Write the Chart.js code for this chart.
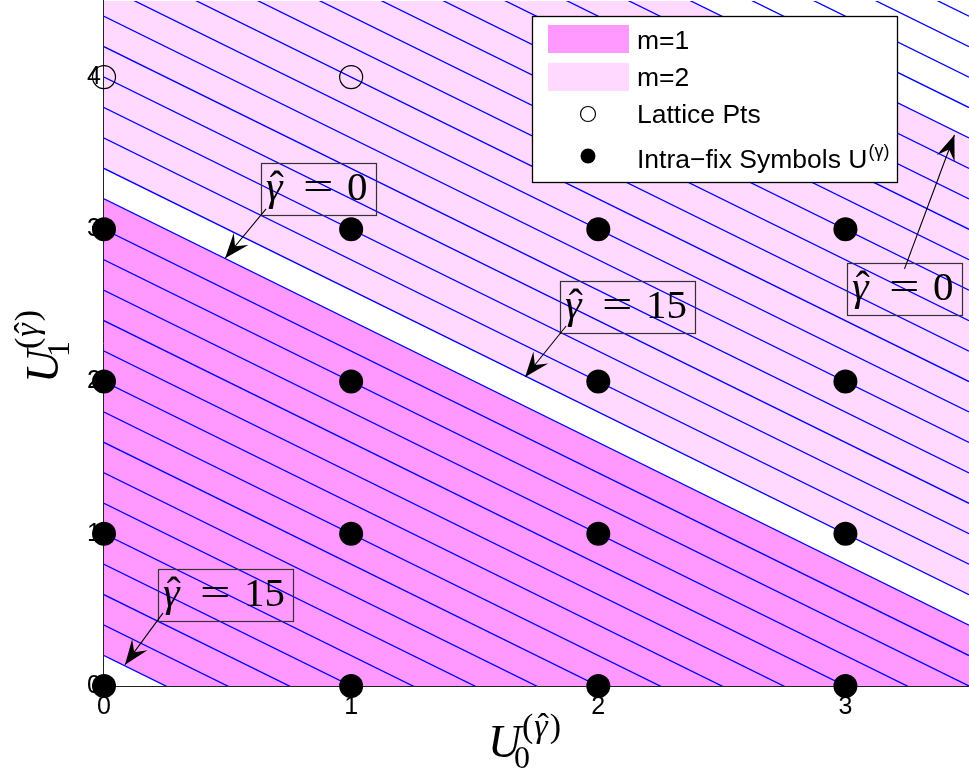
<!DOCTYPE html>
<html>
<head>
<meta charset="utf-8">
<script src="https://cdn.jsdelivr.net/npm/chart.js@4/dist/chart.umd.min.js"></script>
<style>
  html, body { margin: 0; padding: 0; background: #ffffff; }
  #wrap { width: 969px; height: 773px; }
</style>
</head>
<body>
<div id="wrap"><canvas id="chart" width="969" height="773"></canvas></div>
<script>
// ---- data -------------------------------------------------------------
const xTicks = [0, 1, 2, 3];
const yTicks = [0, 1, 2, 3, 4];

// intra-fix symbols U^(gamma) (filled markers)
const symbolU0 = [0, 1, 2, 3, 0, 1, 2, 3, 0, 1, 2, 3, 0, 1, 2, 3];
const symbolU1 = [0, 0, 0, 0, 1, 1, 1, 1, 2, 2, 2, 2, 3, 3, 3, 3];

// remaining lattice points (open markers)
const latticeU0 = [0, 1, 2, 3];
const latticeU1 = [4, 4, 4, 4];

// level lines U1 = c - slope * U0
const levelSlope = 0.8;
const levelIntercepts = [0.2, 0.4, 0.6, 0.8, 1.0, 1.2, 1.4, 1.6, 1.8, 2.0, 2.2, 2.4,
  2.6, 2.8, 3.0, 3.2, 3.4, 3.6, 3.8, 4.0, 4.2, 4.4, 4.6, 4.8, 5.0, 5.2, 5.4, 5.6,
  5.8, 6.0, 6.2, 6.4, 6.6, 6.8, 7.0, 7.2];

// shaded bands, bounded by two level lines each
const bandNames = ['m=1', 'm=2'];
const bandLow = [0.2, 3.4];
const bandHigh = [3.2, 6.4];
const bandColors = ['#ff99ff', '#ffd9ff'];

// gamma-hat annotations: box corner, arrow tail and arrow head (data units)
const notes = [
  { label: '0',  boxX: 0.636, boxY: 3.436, tailX: 0.656, tailY: 3.134, headX: 0.490, headY: 2.81 },
  { label: '15', boxX: 1.846, boxY: 2.661, tailX: 1.870, tailY: 2.365, headX: 1.704, headY: 2.03 },
  { label: '0',  boxX: 3.008, boxY: 2.779, tailX: 3.239, tailY: 2.740, headX: 3.441, headY: 3.62 },
  { label: '15', boxX: 0.219, boxY: 0.769, tailX: 0.239, tailY: 0.480, headX: 0.085, headY: 0.14 }
];

const X_MIN = 0, X_MAX = 3.5, Y_MIN = 0, Y_MAX = 4.5;
const SANS = '"Liberation Sans", Arial, Helvetica, sans-serif';
const SERIF = '"Liberation Serif", "Times New Roman", serif';

// ---- datasets ---------------------------------------------------------
function linePoints(c) {
  return [{ x: X_MIN, y: c - levelSlope * X_MIN }, { x: X_MAX, y: c - levelSlope * X_MAX }];
}

const datasets = [];
bandNames.forEach((name, i) => {
  datasets.push({
    label: name,
    data: linePoints(bandHigh[i]),
    showLine: true,
    borderWidth: 0,
    borderColor: 'rgba(0,0,0,0)',
    pointRadius: 0,
    backgroundColor: bandColors[i],
    fill: '+1',
    order: 3
  });
  datasets.push({
    label: name + ' lower',
    data: linePoints(bandLow[i]),
    showLine: true,
    borderWidth: 0,
    borderColor: 'rgba(0,0,0,0)',
    pointRadius: 0,
    fill: false,
    order: 3
  });
});

levelIntercepts.forEach(c => {
  datasets.push({
    label: 'level ' + c,
    data: linePoints(c),
    showLine: true,
    borderColor: '#0000ff',
    borderWidth: 1.3,
    pointRadius: 0,
    fill: false,
    order: 2
  });
});

datasets.push({
  label: 'Lattice Pts',
  data: latticeU0.map((x, i) => ({ x: x, y: latticeU1[i] })),
  showLine: false,
  pointRadius: 11.5,
  pointHoverRadius: 11.5,
  pointBackgroundColor: 'rgba(0,0,0,0)',
  pointBorderColor: '#000000',
  pointBorderWidth: 1.2,
  clip: false,
  order: 1
});

datasets.push({
  label: 'Intra-fix Symbols',
  data: symbolU0.map((x, i) => ({ x: x, y: symbolU1[i] })),
  showLine: false,
  pointRadius: 12,
  pointHoverRadius: 12,
  pointBackgroundColor: '#000000',
  pointBorderColor: '#000000',
  pointBorderWidth: 0,
  clip: false,
  order: 0
});

// ---- drawing helpers --------------------------------------------------
function drawArrowHead(ctx, tx, ty, fx, fy) {
  const dx = tx - fx, dy = ty - fy;
  const len = Math.hypot(dx, dy);
  const ux = dx / len, uy = dy / len;
  const nx = -uy, ny = ux;
  const L = 25, W = 9.5, notch = 0.62 * L;
  ctx.beginPath();
  ctx.moveTo(tx, ty);
  ctx.lineTo(tx - ux * L + nx * W, ty - uy * L + ny * W);
  ctx.lineTo(tx - ux * notch, ty - uy * notch);
  ctx.lineTo(tx - ux * L - nx * W, ty - uy * L - ny * W);
  ctx.closePath();
  ctx.fill();
}

function drawGammaHat(ctx, x, baseline, size, italic) {
  ctx.font = (italic ? 'italic ' : '') + size + 'px ' + SERIF;
  const gw = ctx.measureText('γ').width;
  ctx.fillText('γ', x, baseline);
  ctx.font = size + 'px ' + SERIF;
  const hw = ctx.measureText('ˆ').width;
  ctx.fillText('ˆ', x + gw / 2 - hw / 2 + size * 0.06, baseline);
  return gw;
}

function drawNote(ctx, xs, ys, n) {
  const left = Math.round(xs.getPixelForValue(n.boxX));
  const top = Math.round(ys.getPixelForValue(n.boxY));
  ctx.save();
  ctx.font = '40px ' + SERIF;
  const numW = ctx.measureText(n.label).width;
  const w = 95 + numW, h = 52;
  ctx.strokeStyle = '#333333';
  ctx.lineWidth = 1.2;
  ctx.strokeRect(left + 0.5, top + 0.5, w, h);

  ctx.fillStyle = '#000000';
  ctx.textBaseline = 'alphabetic';
  ctx.textAlign = 'left';
  const base = top + 37;
  drawGammaHat(ctx, left + 5, base, 42, true);
  // equals sign, widened
  ctx.save();
  ctx.font = '40px ' + SERIF;
  ctx.translate(left + 42, base);
  ctx.scale(1.35, 1);
  ctx.fillText('=', 0, 0);
  ctx.restore();
  ctx.font = '41px ' + SERIF;
  ctx.fillText(n.label, left + 86, base);

  // arrow
  const tx = xs.getPixelForValue(n.tailX), ty = ys.getPixelForValue(n.tailY);
  const hx = xs.getPixelForValue(n.headX), hy = ys.getPixelForValue(n.headY);
  ctx.strokeStyle = '#000000';
  ctx.lineWidth = 1.1;
  ctx.beginPath();
  ctx.moveTo(tx, ty);
  ctx.lineTo(hx, hy);
  ctx.stroke();
  drawArrowHead(ctx, hx, hy, tx, ty);
  ctx.restore();
}

function drawAxisSymbol(ctx, sub) {
  ctx.fillStyle = '#000000';
  ctx.textBaseline = 'alphabetic';
  ctx.textAlign = 'left';
  ctx.font = 'italic 46px ' + SERIF;
  ctx.fillText('U', 0, 0);
  ctx.font = '32px ' + SERIF;
  ctx.fillText(sub, 26, 11);
  ctx.font = '34px ' + SERIF;
  let x = 34;
  ctx.fillText('(', x, -20);
  x += ctx.measureText('(').width + 1;
  const gw = drawGammaHat(ctx, x, -20, 34, true);
  x += gw + 2;
  ctx.font = '34px ' + SERIF;
  ctx.fillText(')', x, -20);
}

function drawLegend(ctx) {
  const bx = 532, by = 16, bw = 365, bh = 166;
  ctx.save();
  ctx.fillStyle = '#ffffff';
  ctx.fillRect(bx, by, bw, bh);
  ctx.strokeStyle = '#000000';
  ctx.lineWidth = 1.3;
  ctx.strokeRect(bx + 0.5, by + 0.5, bw, bh);

  ctx.fillStyle = bandColors[0];
  ctx.fillRect(548, 25, 81, 28);
  ctx.fillStyle = bandColors[1];
  ctx.fillRect(548, 63, 81, 28);

  ctx.strokeStyle = '#000000';
  ctx.lineWidth = 1.2;
  ctx.beginPath();
  ctx.arc(588, 114, 7.5, 0, Math.PI * 2);
  ctx.stroke();
  ctx.fillStyle = '#000000';
  ctx.beginPath();
  ctx.arc(588, 156, 7.5, 0, Math.PI * 2);
  ctx.fill();

  ctx.font = '26.5px ' + SANS;
  ctx.textBaseline = 'alphabetic';
  ctx.textAlign = 'left';
  ctx.fillText(bandNames[0], 637, 49);
  ctx.fillText(bandNames[1], 637, 86);
  ctx.fillText('Lattice Pts', 637, 123);
  const main = 'Intra\u2212fix Symbols U';
  ctx.fillText(main, 637, 168);
  const mw = ctx.measureText(main).width;
  ctx.font = '18px ' + SANS;
  ctx.fillText('(γ)', 637 + mw + 1, 157);
  ctx.restore();
}

// ---- plugins ----------------------------------------------------------
const axesPlugin = {
  id: 'axesLines',
  beforeDatasetsDraw(chart) {
    const { ctx, chartArea: a } = chart;
    ctx.save();
    ctx.strokeStyle = '#222222';
    ctx.lineWidth = 1;
    ctx.beginPath();
    ctx.moveTo(a.left - 0.5, 0);
    ctx.lineTo(a.left - 0.5, a.bottom + 0.5);
    ctx.lineTo(a.right, a.bottom + 0.5);
    ctx.stroke();
    ctx.restore();
  }
};

const overlayPlugin = {
  id: 'overlay',
  afterDatasetsDraw(chart) {
    const ctx = chart.ctx;
    const xs = chart.scales.x, ys = chart.scales.y;
    notes.forEach(n => drawNote(ctx, xs, ys, n));
    drawLegend(ctx);

    ctx.save();
    ctx.translate(488, 757);
    drawAxisSymbol(ctx, '0');
    ctx.restore();

    ctx.save();
    ctx.translate(58, 383);
    ctx.rotate(-Math.PI / 2);
    drawAxisSymbol(ctx, '1');
    ctx.restore();
  }
};

function noScalePadding(scale) {
  scale.paddingTop = 0;
  scale.paddingBottom = 0;
  scale.paddingLeft = 0;
  scale.paddingRight = 0;
}

// ---- chart ------------------------------------------------------------
new Chart(document.getElementById('chart'), {
  type: 'scatter',
  data: { datasets: datasets },
  options: {
    responsive: false,
    animation: false,
    devicePixelRatio: 1,
    layout: { autoPadding: false, padding: { top: 1, right: 0, bottom: 0, left: 0 } },
    plugins: {
      legend: { display: false },
      tooltip: { enabled: false },
      filler: { drawTime: 'beforeDatasetsDraw' }
    },
    events: [],
    scales: {
      x: {
        type: 'linear',
        min: X_MIN,
        max: X_MAX,
        grid: { display: false, drawTicks: false },
        border: { display: false },
        ticks: { color: '#000000', font: { family: SANS, size: 25 }, padding: 6, maxRotation: 0 },
        afterBuildTicks(scale) { scale.ticks = xTicks.map(v => ({ value: v })); },
        afterFit(scale) { scale.height = 87; noScalePadding(scale); }
      },
      y: {
        type: 'linear',
        min: Y_MIN,
        max: Y_MAX,
        grid: { display: false, drawTicks: false },
        border: { display: false },
        ticks: { color: '#000000', font: { family: SANS, size: 25 }, padding: 3 },
        afterBuildTicks(scale) { scale.ticks = yTicks.map(v => ({ value: v })); },
        afterFit(scale) { scale.width = 104; noScalePadding(scale); }
      }
    }
  },
  plugins: [axesPlugin, overlayPlugin]
});
</script>
</body>
</html>
